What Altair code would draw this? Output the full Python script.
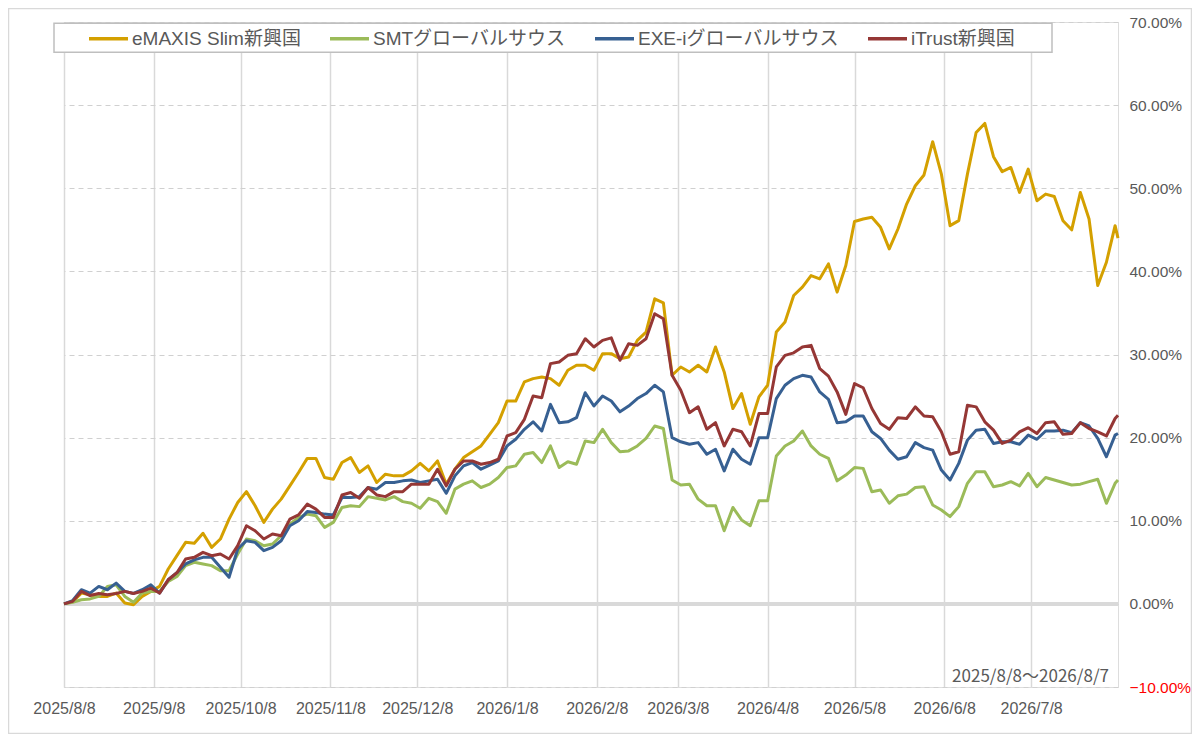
import altair as alt
import pandas as pd

START = "2025-08-08"
DAY_OFFSETS = list(range(0, 364, 3)) + [364]

SERIES = ["eMAXIS Slim新興国", "SMTグローバルサウス", "EXE-iグローバルサウス", "iTrust新興国"]
COLORS = ["#D4A000", "#9BBB59", "#376092", "#953735"]

EMAXIS = [0, 0.25, 1.3, 1.1, 0.9, 0.9, 1.3, 0.1, -0.1, 0.9,
          1.5, 2.1, 4.2, 5.8, 7.4, 7.3, 8.5, 6.8, 7.8, 10.2,
          12.2, 13.5, 11.8, 9.8, 11.4, 12.6, 14.2, 15.8, 17.5, 17.5,
          15.2, 15.0, 17.0, 17.6, 15.8, 16.6, 14.6, 15.6, 15.4, 15.4,
          16.0, 16.9, 16.0, 17.2, 14.4, 16.2, 17.6, 18.3, 19.0, 20.4,
          21.8, 24.4, 24.4, 26.7, 27.1, 27.3, 27.1, 26.3, 28.1, 28.7,
          28.7, 28.1, 30.1, 30.1, 29.5, 29.7, 31.7, 32.7, 36.7, 36.2,
          27.5, 28.5, 27.9, 28.7, 27.9, 30.9, 27.9, 23.5, 25.3, 21.6,
          24.9, 26.3, 32.7, 33.9, 37.1, 38.1, 39.5, 39.1, 40.9, 37.5,
          40.7, 46.0, 46.3, 46.5, 45.3, 42.7, 45.1, 48.1, 50.3, 51.6,
          55.6, 51.7, 45.5, 46.1, 51.7, 56.7, 57.8, 53.8, 52.0, 52.5,
          49.5, 52.3, 48.5, 49.3, 49.0, 46.1, 45.0, 49.5, 46.3, 38.3,
          41.1, 45.5, 44.0]

SMT = [0, 0.2, 0.5, 0.6, 0.9, 2.1, 2.3, 0.9, 0.2, 1.3,
       1.5, 1.5, 2.7, 3.3, 4.6, 5.0, 4.8, 4.6, 4.0, 4.0,
       6.0, 7.8, 7.6, 7.0, 7.2, 8.2, 9.6, 10.4, 10.8, 10.6,
       9.2, 9.8, 11.6, 11.8, 11.7, 12.9, 12.7, 12.5, 12.9, 12.3,
       12.1, 11.5, 12.7, 12.3, 10.9, 13.8, 14.4, 14.8, 14.0, 14.4,
       15.2, 16.4, 16.6, 18.0, 18.2, 17.0, 19.0, 16.4, 17.1, 16.8,
       19.6, 19.4, 21.0, 19.4, 18.3, 18.4, 19.0, 19.9, 21.4, 21.1,
       14.9, 14.3, 14.4, 12.6, 11.8, 11.8, 8.8, 11.6, 10.1, 9.4,
       12.4, 12.4, 17.8, 19.0, 19.6, 20.8, 19.0, 18.0, 17.5, 14.8,
       15.5, 16.4, 16.3, 13.5, 13.7, 12.1, 13.0, 13.2, 14.0, 14.1,
       11.9, 11.3, 10.5, 11.7, 14.5, 15.9, 15.9, 14.1, 14.3, 14.7,
       14.2, 15.7, 14.1, 15.2, 14.9, 14.6, 14.3, 14.4, 14.7, 15.0,
       12.1, 14.5, 14.9]

EXEI = [0, 0.4, 1.7, 1.3, 2.1, 1.7, 2.5, 1.5, 1.25, 1.7,
        2.3, 1.3, 2.9, 3.75, 4.8, 5.3, 5.6, 5.6, 4.4, 3.2,
        6.6, 7.6, 7.4, 6.4, 6.8, 7.6, 9.4, 10.0, 11.1, 11.0,
        10.8, 10.7, 12.8, 12.8, 12.9, 14.0, 13.8, 14.6, 14.6, 14.8,
        14.9, 14.6, 14.8, 15.0, 13.3, 15.4, 16.6, 17.0, 16.2, 16.7,
        17.2, 19.0, 19.8, 21.0, 21.9, 20.8, 24.0, 21.8, 21.9, 22.4,
        25.4, 23.8, 25.0, 24.4, 23.1, 23.8, 24.7, 25.3, 26.3, 25.5,
        20.0, 19.5, 19.2, 19.4, 18.0, 18.6, 16.0, 18.6, 17.4, 16.8,
        20.0, 20.0, 24.7, 26.3, 27.1, 27.5, 27.3, 25.5, 24.6, 21.8,
        21.9, 22.6, 22.6, 20.7, 19.9, 18.5, 17.4, 17.7, 19.4, 18.8,
        18.5, 16.1, 14.9, 16.9, 19.7, 20.9, 21.0, 19.3, 19.5, 19.5,
        19.2, 20.3, 19.8, 20.8, 20.8, 20.9, 20.6, 21.8, 21.4, 19.9,
        17.7, 20.3, 20.5]

ITRUST = [0, 0.3, 1.5, 1.0, 1.25, 1.1, 1.25, 1.5, 1.25, 1.5,
          1.9, 1.3, 2.9, 3.75, 5.4, 5.6, 6.2, 5.8, 6.0, 5.4,
          7.0, 9.4, 8.8, 7.8, 8.4, 8.2, 10.2, 10.7, 12.0, 11.4,
          10.4, 10.4, 13.1, 13.4, 12.7, 14.0, 13.1, 12.9, 13.5, 13.5,
          14.4, 14.4, 14.4, 16.2, 14.2, 16.2, 17.2, 17.2, 16.8, 17.0,
          17.4, 20.2, 20.6, 22.2, 25.0, 24.8, 28.9, 29.1, 29.9, 30.1,
          31.9, 30.9, 31.7, 32.0, 29.3, 31.3, 31.1, 31.9, 34.9, 34.3,
          27.5, 25.7, 23.0, 23.7, 21.0, 21.8, 19.0, 21.0, 20.7, 19.0,
          22.9, 22.9, 28.5, 29.9, 30.2, 30.9, 31.1, 28.3, 27.4, 25.5,
          22.8, 26.5, 26.0, 23.5, 21.7, 21.0, 22.4, 22.3, 23.7, 22.6,
          22.5, 20.7, 18.0, 18.3, 23.9, 23.7, 21.9, 20.9, 19.3, 19.7,
          20.7, 21.2, 20.5, 21.8, 21.9, 20.4, 20.5, 21.8, 21.1, 20.7,
          20.2, 22.3, 22.7]

TICK_DATES = ["2025-08-08", "2025-09-08", "2025-10-08", "2025-11-08", "2025-12-08",
              "2026-01-08", "2026-02-08", "2026-03-08", "2026-04-08", "2026-05-08",
              "2026-06-08", "2026-07-08"]
Y_TICKS = [-10, 0, 10, 20, 30, 40, 50, 60, 70]
DOMAIN_DATES = ["2025-08-08", "2026-08-07"]
PERIOD_TEXT = "2025/8/8〜2026/8/7"

FONT = "Liberation Sans, Noto Sans CJK JP, sans-serif"
GRAY = "#595959"

dates = (pd.Timestamp(START) + pd.to_timedelta(DAY_OFFSETS, unit="D")).strftime("%Y-%m-%d")
rows = []
for name, vals in zip(SERIES, [EMAXIS, SMT, EXEI, ITRUST]):
    for d, v in zip(dates, vals):
        rows.append({"date": d, "value": v, "series": name})
df = pd.DataFrame(rows)


def dt(s):
    y, m, d = (int(p) for p in s.split("-"))
    return alt.DateTime(year=y, month=m, date=d, utc=True)


x_enc = alt.X(
    "date:T",
    scale=alt.Scale(type="utc", domain=[dt(s) for s in DOMAIN_DATES]),
    axis=alt.Axis(
        values=[dt(s) for s in TICK_DATES],
        labelExpr="utcyear(datum.value) + '/' + (utcmonth(datum.value) + 1) + '/' + utcdate(datum.value)",
        labelOverlap=False, labelFlush=False,
        grid=True, gridColor="#d9d9d9", gridWidth=1.5, domain=False, ticks=False,
        labelPadding=13, labelFontSize=16, labelFont=FONT, labelColor=GRAY,
        labelAngle=0, title=None,
    ),
)
y_enc = alt.Y(
    "value:Q",
    scale=alt.Scale(domain=[-10, 70], nice=False, zero=False),
    axis=alt.Axis(
        orient="right", values=Y_TICKS, labelExpr="format(datum.value, '.2f') + '%'",
        grid=True, gridDash=[5, 4], gridColor="#d0d0d0", gridWidth=1,
        domain=False, ticks=False, labelPadding=11, labelAlign="left",
        labelFontSize=15.5, labelFont=FONT,
        labelColor={"condition": {"test": "datum.value < 0", "value": "#ff0000"}, "value": GRAY},
        title=None,
    ),
)

lines = alt.Chart(df).mark_line(strokeWidth=3, strokeJoin="round").encode(
    x=x_enc,
    y=y_enc,
    color=alt.Color(
        "series:N",
        scale=alt.Scale(domain=SERIES, range=COLORS),
        legend=alt.Legend(
            orient="none", legendX=23, legendY=-5, direction="horizontal",
            columnPadding=22,
            symbolType="stroke", symbolSize=1521, symbolStrokeWidth=3.5,
            labelFontSize=19, labelFont=FONT, labelColor=GRAY, labelOffset=2,
            labelLimit=400, padding=0,
            title=None,
        ),
    ),
)

one = pd.DataFrame({"k": [0]})
zero_rule = alt.Chart(one).mark_rule(color="#d9d9d9", strokeWidth=4).encode(y=alt.datum(0))

frame = alt.Chart(one).mark_rect(fillOpacity=0, stroke="#d9d9d9", strokeWidth=1.5, clip=False).encode(
    x=alt.value(-55.5), x2=alt.value(1127.5), y=alt.value(-13.5), y2=alt.value(711.5)
)

legend_box = alt.Chart(one).mark_rect(fill="white", stroke="#bfbfbf", strokeWidth=1.5, clip=False).encode(
    x=alt.value(-10), x2=alt.value(988), y=alt.value(1.3), y2=alt.value(30.3)
)

period = alt.Chart(one).mark_text(
    align="right", baseline="alphabetic", font="Noto Sans CJK JP", fontSize=17, color=GRAY
).encode(x=alt.value(1045), y=alt.value(660), text=alt.value(PERIOD_TEXT))

chart = alt.layer(frame, zero_rule, lines, legend_box, period).properties(
    width=1054, height=665,
    padding={"left": 56, "top": 14, "right": 74, "bottom": 47},
    autosize=alt.AutoSizeParams(type="none"),
).configure_view(stroke=None).configure(background="white")

chart.save("out.html", embed_options={"renderer": "svg", "actions": False})
